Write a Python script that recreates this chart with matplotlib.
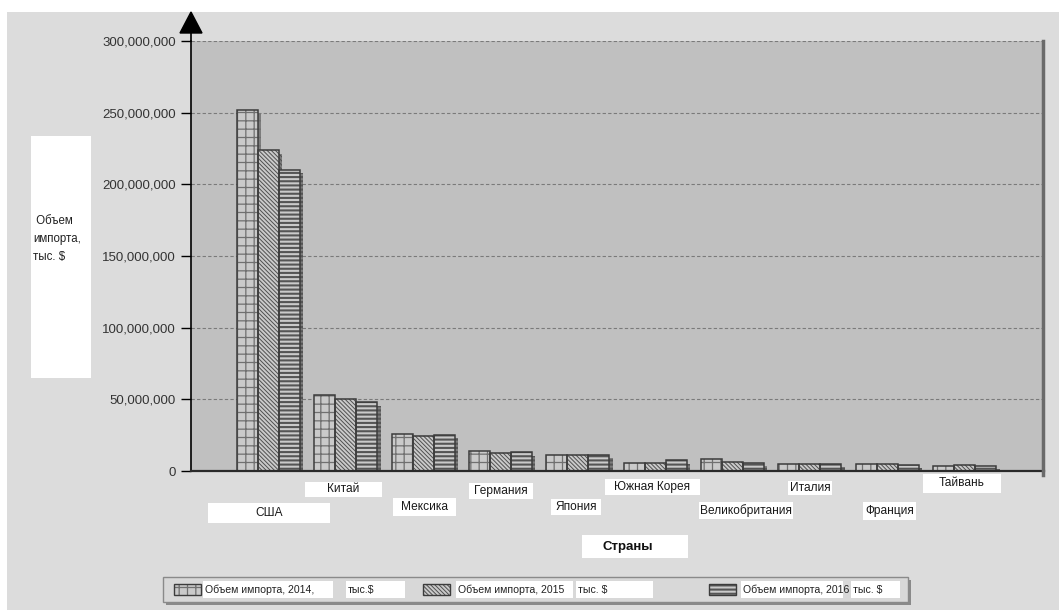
import matplotlib.pyplot as plt
import matplotlib.patheffects as pe
from matplotlib.patches import Rectangle, Polygon
import numpy as np

plt.rcParams['font.family'] = ['Liberation Sans', 'DejaVu Sans']

W, H = 1059, 610

countries = ['США', 'Китай', 'Мексика', 'Германия', 'Япония',
             'Южная Корея', 'Великобритания', 'Италия', 'Франция', 'Тайвань']
# объем импорта, тыс. $
imp_2014 = [251_600_000, 53_000_000, 26_100_000, 13_900_000, 11_500_000,
            5_900_000, 8_200_000, 5_100_000, 5_100_000, 3_500_000]
imp_2015 = [223_700_000, 50_500_000, 24_200_000, 12_900_000, 11_200_000,
            5_600_000, 6_100_000, 4_700_000, 5_000_000, 4_400_000]
imp_2016 = [210_300_000, 47_900_000, 25_100_000, 13_000_000, 11_400_000,
            7_500_000, 5_600_000, 5_100_000, 4_200_000, 3_500_000]
yticks = [0, 50_000_000, 100_000_000, 150_000_000, 200_000_000, 250_000_000, 300_000_000]
legend_text = [('Объем импорта, 2014,', 'тыс.$'),
               ('Объем импорта, 2015', 'тыс. $'),
               ('Объем импорта, 2016', 'тыс. $')]

# label boxes under the axis (pixels: x0, x1, y0, y1)
label_boxes = [(208, 330, 503, 523), (305, 382, 482, 497), (393, 456, 498, 516),
               (469, 533, 483, 499), (551, 601, 499, 515), (605, 700, 479, 495),
               (699, 793, 502, 519), (788, 832, 481, 495), (863, 916, 502, 520),
               (923, 1001, 474, 493)]


def fx(x):
    return x / W


def fy(y):
    return 1 - y / H


fig = plt.figure(figsize=(W / 100, H / 100), dpi=100, facecolor='white')


def box(x0, y0, x1, y1, **kw):
    r = Rectangle((fx(x0), fy(y1)), (x1 - x0) / W, (y1 - y0) / H,
                  transform=fig.transFigure, **kw)
    fig.patches.append(r)
    return r


# outer panel
box(7, 12, W, H, facecolor='#dcdcdc', edgecolor='none', zorder=-5)

L, R, T, B = 191, 1042, 41, 471
ax = fig.add_axes([fx(L), fy(B), (R - L) / W, (B - T) / H])
ax.set_facecolor('#c0c0c0')

x = np.arange(1, len(countries) + 1)
w = 0.271
series = [(imp_2014, '++', '#707070', 0.9),
          (imp_2015, '\\' * 8, '#505050', 0.7),
          (imp_2016, '----', '#555555', 1.5)]
shadow = [pe.SimplePatchShadow(offset=(2.5, -2.5), shadow_rgbFace='k', alpha=0.35), pe.Normal()]
for k, (vals, hatch, hc, hlw) in enumerate(series):
    with plt.rc_context({'hatch.linewidth': hlw}):
        ax.bar(x + (k - 1) * w, vals, w, facecolor='#cacaca', edgecolor=hc,
               linewidth=0, hatch=hatch, zorder=3, path_effects=shadow)
    ax.bar(x + (k - 1) * w, vals, w, facecolor='none', edgecolor='#3c3c3c',
           linewidth=1.1, zorder=4)

ax.set_xlim(0, len(countries) + 1)
ax.set_ylim(0, 300_000_000)
ax.set_xticks([])
ax.set_yticks(yticks)
ax.set_yticklabels([f'{v:,}' for v in yticks])
ax.tick_params(axis='y', length=7.2, width=1, color='black', pad=3.5,
               labelsize=9.5, labelcolor='#333333')
ax.grid(axis='y', color='#7a7a7a', linestyle=(0, (3, 2)), linewidth=0.8, zorder=1)
for s in ['top', 'right', 'bottom']:
    ax.spines[s].set_visible(False)
ax.spines['left'].set_color('black')
ax.spines['left'].set_linewidth(1.2)

# base line, right-edge shadow and y-axis arrow
fig.lines.append(plt.Line2D([fx(L), fx(R + 2)], [fy(B), fy(B)], color='#2a2a2a',
                            linewidth=1.6, transform=fig.transFigure, zorder=5))
fig.lines.append(plt.Line2D([fx(R + 1), fx(R + 1)], [fy(T), fy(B + 4)], color='#6a6a6a',
                            linewidth=2.5, transform=fig.transFigure, zorder=5))
fig.lines.append(plt.Line2D([fx(L), fx(L)], [fy(33), fy(T)], color='black',
                            linewidth=1.2, transform=fig.transFigure, zorder=5))
fig.patches.append(Polygon([(fx(180), fy(33)), (fx(202), fy(33)), (fx(191), fy(12))],
                           closed=True, facecolor='black', edgecolor='black',
                           transform=fig.transFigure, zorder=5))

# country labels
for name, (x0, x1, y0, y1) in zip(countries, label_boxes):
    box(x0, y0, x1, y1, facecolor='white', edgecolor='none', zorder=2)
    fig.text(fx((x0 + x1) / 2), fy((y0 + y1) / 2), name, ha='center', va='center',
             fontsize=8.6, color='#1a1a1a', zorder=3)

# axis titles
box(31, 136, 91, 378, facecolor='white', edgecolor='none', zorder=2)
fig.text(fx(33), fy(239), ' Объем\nимпорта,\nтыс. $', ha='left', va='center',
         fontsize=8.3, color='#222222', linespacing=1.7, zorder=3)
box(582, 535, 688, 558, facecolor='white', edgecolor='none', zorder=2)
fig.text(fx(628), fy(547), 'Страны', ha='center', va='center', fontsize=9.5,
         fontweight='bold', color='#111111', zorder=3)

# legend
box(166, 580, 911, 605, facecolor='#8a8a8a', edgecolor='none', zorder=1)
box(163, 577, 908, 602, facecolor='#d8d8d8', edgecolor='#8a8a8a', linewidth=1, zorder=2)
leg_patch_x = [174, 423, 709]
leg_text_box = [(203, 333), (456, 573), (741, 843)]
leg_unit_box = [(346, 405), (576, 653), (851, 900)]
for k in range(3):
    px = leg_patch_x[k]
    _, hatch, hc, hlw = series[k]
    with plt.rc_context({'hatch.linewidth': hlw}):
        box(px, 584, px + 27, 595, facecolor='#cacaca', edgecolor=hc, linewidth=0,
            hatch=hatch, zorder=3)
    box(px, 584, px + 27, 595, facecolor='none', edgecolor='#3c3c3c', linewidth=1, zorder=4)
    a0, a1 = leg_text_box[k]
    box(a0, 581, a1, 598, facecolor='white', edgecolor='none', zorder=3)
    fig.text(fx(a0 + 2), fy(590), legend_text[k][0], ha='left', va='center',
             fontsize=7.6, color='#222222', zorder=4)
    b0, b1 = leg_unit_box[k]
    box(b0, 581, b1, 598, facecolor='white', edgecolor='none', zorder=3)
    fig.text(fx(b0 + 2), fy(590), legend_text[k][1], ha='left', va='center',
             fontsize=7.6, color='#222222', zorder=4)

fig.savefig('out.png', dpi=100, facecolor=fig.get_facecolor())
